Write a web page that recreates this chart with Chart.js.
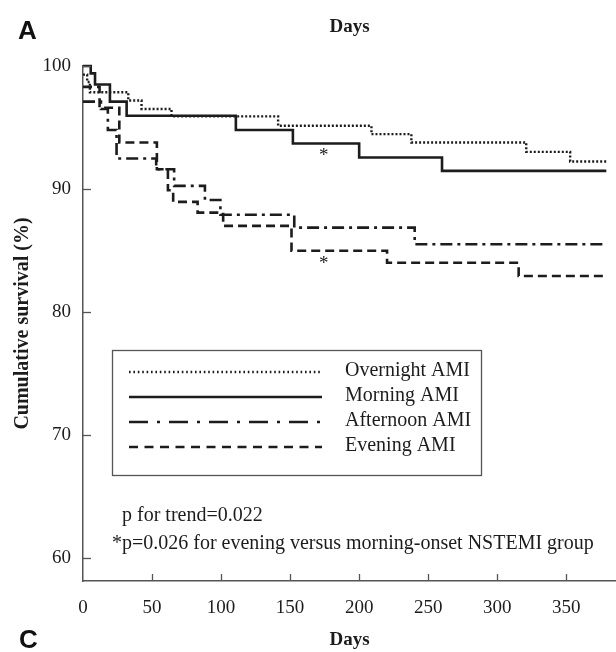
<!DOCTYPE html>
<html><head><meta charset="utf-8">
<script src="https://cdn.jsdelivr.net/npm/chart.js@4/dist/chart.umd.min.js"></script>
<style>
html,body{margin:0;padding:0;background:#fff;}
#wrap{position:relative;width:616px;height:652px;overflow:hidden;}
canvas{display:block;}
.panel{position:absolute;font-family:"Liberation Sans",Arial,sans-serif;font-weight:bold;font-size:26px;color:#111;line-height:1;}
</style></head><body>
<div id="wrap"><canvas id="c" width="616" height="652"></canvas>
<div class="panel" style="left:18px;top:17px">A</div>
<div class="panel" style="left:19px;top:626px">C</div>
</div>
<script>
// ---- data ----
const seriesNames = ['Overnight AMI', 'Morning AMI', 'Afternoon AMI', 'Evening AMI'];
const overnightDays = [0, 3, 5, 32.8, 42.4, 64.1, 141.3, 208.9, 237.8, 321, 352.8, 379];
const overnightSurv = [99.3, 98.7, 97.86, 97.2, 96.5, 95.9, 95.14, 94.46, 93.78, 93.02, 92.24, 92.24];
const morningDays = [0, 5.6, 8.7, 19.5, 31.6, 110.7, 152, 200, 260, 379];
const morningSurv = [100, 99.4, 98.5, 97.1, 95.95, 94.8, 93.7, 92.56, 91.47, 91.47];
const afternoonDays = [0, 13, 18, 24.3, 53, 66, 88.3, 99.5, 153, 240.2, 379];
const afternoonSurv = [97.1, 96.5, 94.8, 92.48, 91.6, 90.25, 89.1, 87.9, 86.86, 85.5, 85.5];
const eveningDays = [0, 12, 26.3, 53.5, 61.5, 65.3, 83, 101.5, 151, 220.2, 315.5, 379];
const eveningSurv = [98.3, 96.6, 93.78, 91.6, 89.9, 88.95, 88.08, 87.0, 84.98, 84.0, 82.92, 82.92];
const xTickValues = [0, 50, 100, 150, 200, 250, 300, 350];
const yTickValues = [60, 70, 80, 90, 100];
const asteriskDays = [174.4, 174.4];
const asteriskSurv = [93.08, 84.28];
const footTrend = 'p for trend=0.022';
const footPair = '*p=0.026 for evening versus morning-onset NSTEMI group';

// ---- styles ----
const SERIF = '"Liberation Serif","Times New Roman",serif';
const INK = '#1c1c1c';
const styles = [
  {dash: [2, 2], legendDash: [1.6, 2.8], width: 2.4},
  {dash: [], legendDash: [], width: 2.6},
  {dash: [12, 5, 3, 5], legendDash: [19, 9, 3, 9], width: 2.6},
  {dash: [9, 5], legendDash: [9, 6.5], width: 2.6}
];
const seriesDays = [overnightDays, morningDays, afternoonDays, eveningDays];
const seriesSurv = [overnightSurv, morningSurv, afternoonSurv, eveningSurv];

Chart.defaults.font.family = SERIF;
Chart.defaults.color = INK;

const datasets = seriesNames.map((name, i) => ({
  label: name,
  data: seriesDays[i].map((d, k) => ({x: d, y: seriesSurv[i][k]})),
  stepped: true,
  borderColor: INK,
  borderWidth: styles[i].width,
  borderDash: styles[i].dash,
  borderCapStyle: 'butt',
  pointRadius: 0,
  fill: false,
  clip: 6,
  xAxisID: 'x',
  yAxisID: 'y'
}));

const decor = {
  id: 'decor',
  afterDatasetsDraw(chart) {
    const {ctx, chartArea: a, scales: {x, y}} = chart;
    ctx.save();
    // inward ticks
    ctx.strokeStyle = '#555';
    ctx.lineWidth = 1.3;
    ctx.setLineDash([]);
    yTickValues.forEach(v => {
      const py = Math.round(y.getPixelForValue(v)) + 0.5;
      ctx.beginPath(); ctx.moveTo(a.left, py); ctx.lineTo(a.left + 8, py); ctx.stroke();
    });
    xTickValues.forEach(v => {
      if (v === 0) return;
      const px = Math.round(x.getPixelForValue(v)) + 0.5;
      ctx.beginPath(); ctx.moveTo(px, a.bottom); ctx.lineTo(px, a.bottom - 7); ctx.stroke();
    });
    // legend box
    const L = {left: 112, top: 350, right: 481, bottom: 475, x0: 129, x1: 322, tx: 345, rows: [372, 397, 422, 447]};
    ctx.strokeStyle = '#555';
    ctx.lineWidth = 1.3;
    ctx.strokeRect(L.left + 0.5, L.top + 0.5, L.right - L.left, L.bottom - L.top);
    ctx.font = '20px ' + SERIF;
    ctx.textBaseline = 'middle';
    ctx.textAlign = 'left';
    chart.data.datasets.forEach((ds, i) => {
      ctx.strokeStyle = ds.borderColor;
      ctx.lineWidth = ds.borderWidth;
      ctx.setLineDash(styles[i].legendDash);
      ctx.beginPath(); ctx.moveTo(L.x0, L.rows[i]); ctx.lineTo(L.x1, L.rows[i]); ctx.stroke();
      ctx.setLineDash([]);
      ctx.fillStyle = INK;
      ctx.fillText(ds.label, L.tx, L.rows[i] - 1);
    });
    // asterisks
    ctx.font = '19px ' + SERIF;
    ctx.textAlign = 'center';
    ctx.textBaseline = 'alphabetic';
    asteriskDays.forEach((d, k) => {
      ctx.fillText('*', x.getPixelForValue(d), y.getPixelForValue(asteriskSurv[k]) + 10);
    });
    // footnotes
    ctx.font = '20px ' + SERIF;
    ctx.textAlign = 'left';
    ctx.fillText(footTrend, 122, 521);
    ctx.fillText(footPair, 112, 549);
    ctx.restore();
  }
};

new Chart(document.getElementById('c'), {
  type: 'line',
  data: {datasets},
  options: {
    responsive: false,
    animation: false,
    events: [],
    layout: {padding: 0},
    plugins: {legend: {display: false}, tooltip: {enabled: false}, title: {display: false}},
    scales: {
      x: {
        type: 'linear', position: 'bottom', min: 0, max: 386,
        afterBuildTicks: s => { s.ticks = xTickValues.map(v => ({value: v})); },
        afterFit: s => { s.height = 71; },
        grid: {display: false, drawTicks: false},
        border: {display: true, color: '#555', width: 1.5},
        ticks: {padding: 16, font: {size: 19}, color: INK, maxRotation: 0, autoSkip: false},
        title: {display: true, text: 'Days', font: {size: 19, weight: 'bold'}, color: INK, padding: {top: 0, bottom: 1}}
      },
      x2: {
        type: 'linear', position: 'top', min: 0, max: 386,
        afterFit: s => { s.height = 66; },
        grid: {display: false, drawTicks: false},
        border: {display: false},
        ticks: {display: false},
        title: {display: true, text: 'Days', font: {size: 19, weight: 'bold'}, color: INK, padding: {top: 16, bottom: 0}}
      },
      y: {
        type: 'linear', position: 'left', min: 58.12, max: 100,
        afterBuildTicks: s => { s.ticks = yTickValues.map(v => ({value: v})); },
        afterFit: s => { s.width = 83; },
        grid: {display: false, drawTicks: false},
        border: {display: true, color: '#555', width: 1.5},
        ticks: {padding: 12, font: {size: 19}, color: INK},
        title: {display: true, text: 'Cumulative survival (%)', font: {size: 20, weight: 'bold'}, color: INK, padding: {top: 11, bottom: 0}}
      }
    }
  },
  plugins: [decor]
});
</script>
</body></html>
